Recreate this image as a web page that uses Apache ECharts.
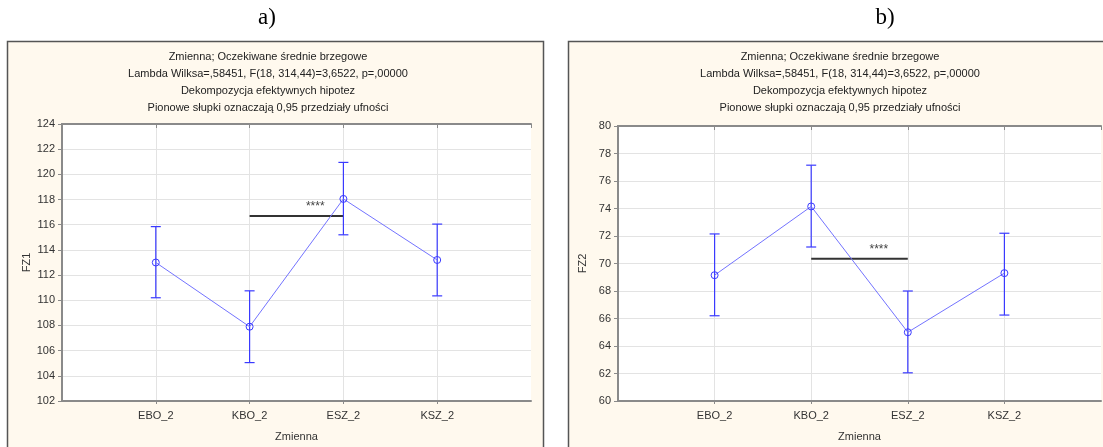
<!DOCTYPE html>
<html>
<head>
<meta charset="utf-8">
<script src="https://cdn.jsdelivr.net/npm/echarts@6/dist/echarts.min.js"></script>
<style>
html,body{margin:0;padding:0;background:#fff;}
#c{width:1103px;height:447px;}
</style>
</head>
<body>
<div id="c"></div>
<script>
// ---- data ----
const categories = ['EBO_2', 'KBO_2', 'ESZ_2', 'KSZ_2'];
const fz1Mean = [113.0, 107.9, 118.05, 113.2];
const fz1Low  = [110.2, 105.05, 115.2, 110.35];
const fz1High = [115.85, 110.75, 120.95, 116.05];
const fz2Mean = [69.15, 74.15, 65.0, 69.3];
const fz2Low  = [66.2, 71.2, 62.05, 66.25];
const fz2High = [72.15, 77.15, 68.0, 72.2];
// significance bars: [fromCategoryIndex, toCategoryIndex, yValue, label]
const fz1Sig = [[1, 2, 116.7, '****']];
const fz2Sig = [[1, 2, 70.35, '****']];
const fz1Ticks = {min: 102, max: 124, interval: 2};
const fz2Ticks = {min: 60, max: 80, interval: 2};
const titleLines = [
  'Zmienna; Oczekiwane średnie brzegowe',
  'Lambda Wilksa=,58451, F(18, 314,44)=3,6522, p=,00000',
  'Dekompozycja efektywnych hipotez',
  'Pionowe słupki oznaczają 0,95 przedziały ufności'
];
const panelLabels = ['a)', 'b)'];
const yNames = ['FZ1', 'FZ2'];
const xName = 'Zmienna';

const FONT = 'Liberation Sans, Arial, sans-serif';
const BLUE = '#3a3aff';
const LINEBLUE = '#7373ff';

const chart = echarts.init(document.getElementById('c'), null, {renderer: 'canvas'});

const grids = [
  {left: 62, top: 124, width: 469, height: 280},
  {left: 618, top: 126, width: 483, height: 277}
];

function xAxes(gi) {
  const base = {
    gridIndex: gi, type: 'value', min: 0, max: categories.length + 1, interval: 1,
  };
  return [
    Object.assign({}, base, {
      position: 'bottom',
      name: xName, nameLocation: 'middle', nameGap: 30,
      nameTextStyle: {fontFamily: FONT, fontSize: 11, color: '#333'},
      axisLine: {show: true, lineStyle: {color: '#8a8a8a', width: 2}},
      axisTick: {show: true, inside: false, length: 3, lineStyle: {color: '#8a8a8a'},
        customValues: categories.map((c, i) => i + 1)},
      axisLabel: {
        fontFamily: FONT, fontSize: 11, color: '#333', margin: 9,
        customValues: categories.map((c, i) => i + 1),
        formatter: v => categories[v - 1] || ''
      },
      splitLine: {show: true, lineStyle: {color: '#e3e3e3', width: 1}}
    }),
    Object.assign({}, base, {
      position: 'top',
      axisLine: {show: true, lineStyle: {color: '#8a8a8a', width: 2}},
      axisTick: {show: true, inside: true, length: 4, lineStyle: {color: '#8a8a8a'}},
      axisLabel: {show: false},
      splitLine: {show: false}
    })
  ];
}
function yAxes(gi, t) {
  return [
    {
      gridIndex: gi, type: 'value', position: 'left', min: t.min, max: t.max, interval: t.interval,
      name: yNames[gi], nameLocation: 'middle', nameGap: 30, nameRotate: 90,
      nameTextStyle: {fontFamily: FONT, fontSize: 11, color: '#333'},
      axisLine: {show: true, lineStyle: {color: '#8a8a8a', width: 2}},
      axisTick: {show: true, inside: false, length: 3, lineStyle: {color: '#8a8a8a'}},
      axisLabel: {fontFamily: FONT, fontSize: 11, color: '#333', margin: 7},
      splitLine: {show: true, lineStyle: {color: '#e3e3e3', width: 1}}
    },
    {
      gridIndex: gi, type: 'value', position: 'right', min: t.min, max: t.max, interval: t.interval,
      axisLine: {show: true, lineStyle: {color: '#8a8a8a', width: 2}},
      axisTick: {show: true, inside: true, length: 4, lineStyle: {color: '#8a8a8a'}},
      axisLabel: {show: false},
      splitLine: {show: false}
    }
  ];
}

function errorSeries(gi, low, high) {
  return {
    type: 'custom', xAxisIndex: gi * 2, yAxisIndex: gi * 2, z: 3,
    data: categories.map((c, i) => [i + 1, low[i], high[i]]),
    renderItem: function (params, api) {
      const x = api.value(0);
      const lo = api.coord([x, api.value(1)]);
      const hi = api.coord([x, api.value(2)]);
      const hw = 5;
      const style = {stroke: BLUE, lineWidth: 1.2};
      return {
        type: 'group',
        children: [
          {type: 'line', shape: {x1: lo[0], y1: lo[1], x2: hi[0], y2: hi[1]}, style: style},
          {type: 'line', shape: {x1: lo[0] - hw, y1: lo[1], x2: lo[0] + hw, y2: lo[1]}, style: style},
          {type: 'line', shape: {x1: hi[0] - hw, y1: hi[1], x2: hi[0] + hw, y2: hi[1]}, style: style}
        ]
      };
    }
  };
}
function meanSeries(gi, mean) {
  return {
    type: 'line', xAxisIndex: gi * 2, yAxisIndex: gi * 2, z: 4,
    data: categories.map((c, i) => [i + 1, mean[i]]),
    symbol: 'circle', symbolSize: 7, showSymbol: true,
    lineStyle: {color: LINEBLUE, width: 1},
    itemStyle: {color: 'rgba(255,255,255,0)', borderColor: BLUE, borderWidth: 1},
    emphasis: {disabled: true}, animation: false
  };
}
function sigSeries(gi, sig) {
  return {
    type: 'custom', xAxisIndex: gi * 2, yAxisIndex: gi * 2, z: 2,
    data: sig.map(s => [s[0] + 1, s[1] + 1, s[2]]),
    renderItem: function (params, api) {
      const p1 = api.coord([api.value(0), api.value(2)]);
      const p2 = api.coord([api.value(1), api.value(2)]);
      const label = sig[params.dataIndex][3];
      return {
        type: 'group',
        children: [
          {type: 'line', shape: {x1: p1[0], y1: p1[1], x2: p2[0], y2: p2[1]},
            style: {stroke: '#333', lineWidth: 2}},
          {type: 'text', x: p1[0] + (p2[0] - p1[0]) * 0.7, y: p1[1] - 9,
            style: {text: label, fill: '#444', font: '12px ' + FONT, align: 'center', verticalAlign: 'middle'}}
        ]
      };
    }
  };
}

const frames = [
  {x: 7.5, y: 41.5, w: 536, h: 420},
  {x: 568.5, y: 41.5, w: 540, h: 420}
];
const titleCenters = [268, 840];
const labelCenters = [267, 885];

const graphic = [];
frames.forEach((f, i) => {
  graphic.push({type: 'rect', z: -10, shape: {x: f.x, y: f.y, width: f.w, height: f.h},
    style: {fill: '#fff9ee', stroke: '#555', lineWidth: 1.5}});
  graphic.push({type: 'text', z: 10, x: labelCenters[i], y: 18,
    style: {text: panelLabels[i], font: '23px Liberation Serif, Times New Roman, serif', fill: '#000',
      align: 'center', verticalAlign: 'middle'}});
  titleLines.forEach((t, k) => {
    graphic.push({type: 'text', z: 10, x: titleCenters[i], y: 57 + k * 17,
      style: {text: t, font: '11px ' + FONT, fill: '#222', align: 'center', verticalAlign: 'middle'}});
  });
});

chart.setOption({
  animation: false,
  graphic: graphic,
  grid: grids.map(g => Object.assign({show: true, backgroundColor: '#ffffff', borderWidth: 0}, g)),
  xAxis: [].concat(xAxes(0), xAxes(1)),
  yAxis: [].concat(yAxes(0, fz1Ticks), yAxes(1, fz2Ticks)),
  series: [
    sigSeries(0, fz1Sig), errorSeries(0, fz1Low, fz1High), meanSeries(0, fz1Mean),
    sigSeries(1, fz2Sig), errorSeries(1, fz2Low, fz2High), meanSeries(1, fz2Mean)
  ]
});
</script>
</body>
</html>
